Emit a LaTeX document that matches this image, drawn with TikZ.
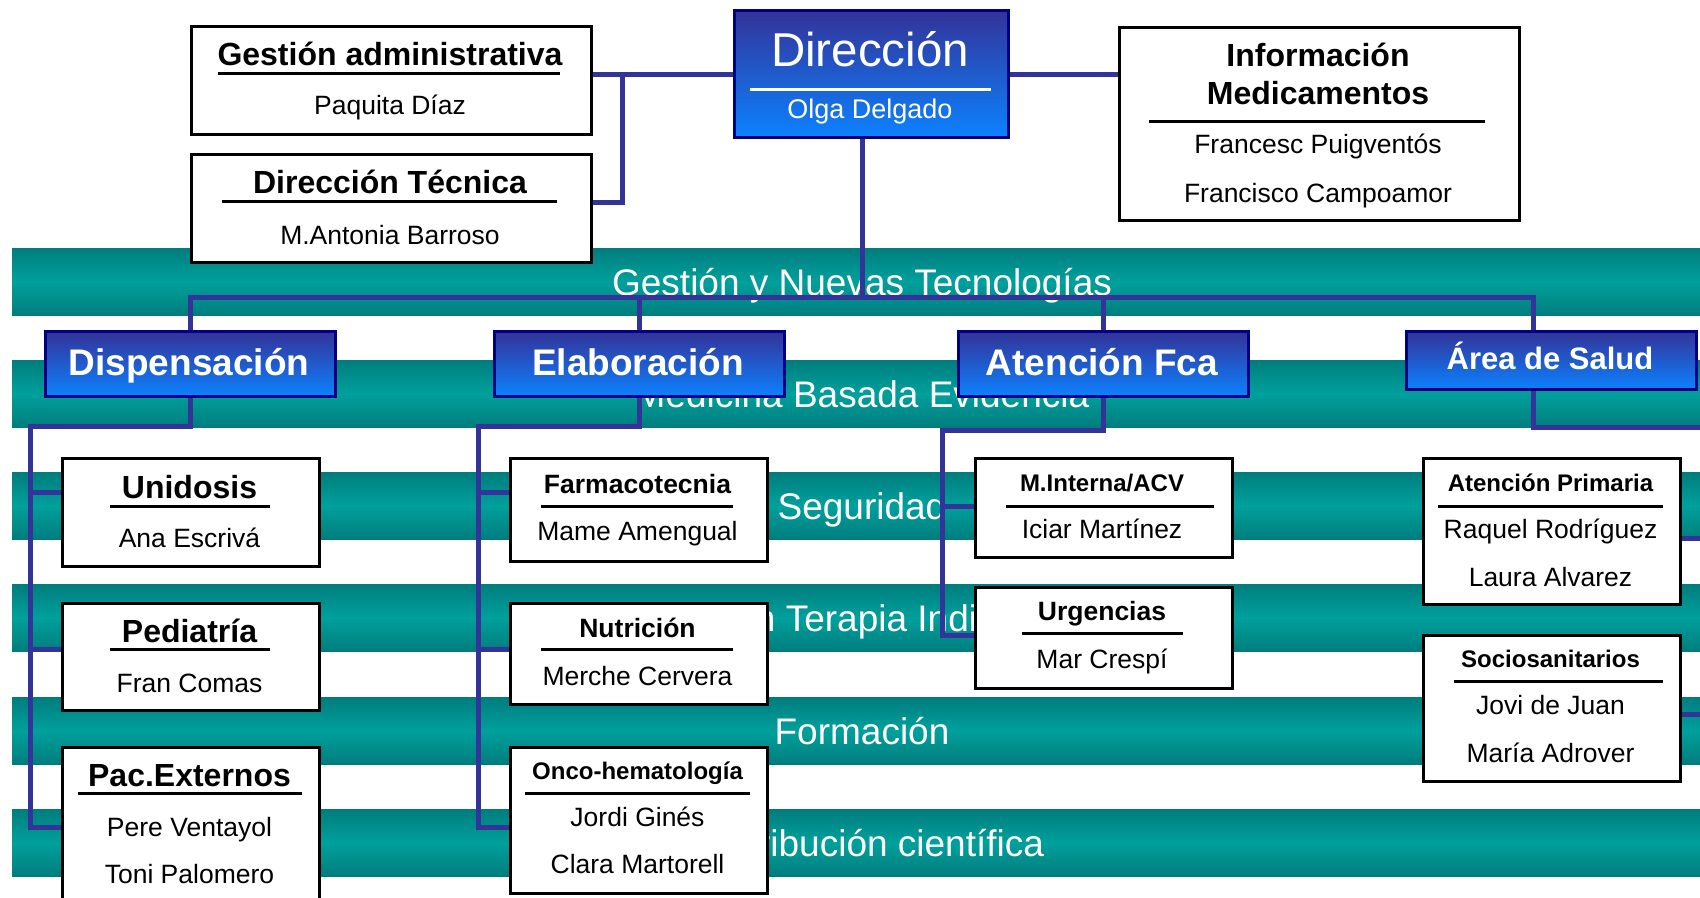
\documentclass[tikz,border=0pt]{standalone}
\usepackage{fontspec}
\setmainfont{Liberation Sans}
\definecolor{tealA}{RGB}{0,125,125}
\definecolor{tealB}{RGB}{0,160,156}
\definecolor{lineblue}{RGB}{51,51,153}
\definecolor{navyB}{RGB}{0,0,130}
\definecolor{blueTop}{RGB}{51,51,153}
\definecolor{blueBot}{RGB}{12,130,255}
\newcommand{\fs}[1]{\fontsize{#1}{#1}\selectfont}
\pgfdeclarelayer{bands}
\pgfdeclarelayer{conns}
\pgfsetlayers{bands,conns,main}
\tikzset{
  band/.style={top color=tealA, bottom color=tealA, middle color=tealB, draw=none, inner sep=0pt, anchor=north west, minimum width=1688pt, minimum height=67pt},
  bandtxt/.style={text=white, font=\fs{37}, anchor=base, inner sep=0pt},
  bluebox/.style={draw=navyB, line width=3pt, top color=blueTop, bottom color=blueBot, inner sep=0pt, anchor=north west},
  wbox/.style={draw=black, line width=3pt, fill=white, inner sep=0pt, anchor=north west},
  conn/.style={draw=lineblue, line width=5pt, line join=miter},
  uline/.style={draw=black, line width=3pt},
  wline/.style={draw=white, line width=3pt},
  sectxt/.style={text=white, font=\bfseries\fs{37}, anchor=base, inner sep=0pt},
  bigttl/.style={font=\bfseries\fs{32}, anchor=base, inner sep=0pt},
  midttl/.style={font=\bfseries\fs{26.5}, anchor=base, inner sep=0pt},
  smlttl/.style={font=\bfseries\fs{24}, anchor=base, inner sep=0pt},
  nm/.style={font=\fs{26.5}, anchor=base, inner sep=0pt}
}
\begin{document}
\begin{tikzpicture}[x=1pt,y=-1pt]
\useasboundingbox (0,0) rectangle (1700,897);
\begin{pgfonlayer}{bands}
\node[band] (b1) at (12,248) {};
\node[band] (b2) at (12,360) {};
\node[band] (b3) at (12,472) {};
\node[band] (b4) at (12,584) {};
\node[band] (b5) at (12,697) {};
\node[band] (b6) at (12,809) {};
\node[bandtxt] (t1) at (862,295) {Gestión y Nuevas Tecnologías};
\node[bandtxt] (t2) at (862,407) {Medicina Basada Evidencia};
\node[bandtxt] (t3) at (862,519) {Seguridad};
\node[bandtxt] (t4) at (862,631) {Optimización Terapia Individualizada};
\node[bandtxt] (t5) at (862,744) {Formación};
\node[bandtxt] (t6) at (862,856) {Contribución científica};
\end{pgfonlayer}

% top level boxes
\node[bluebox, minimum width=274pt, minimum height=127pt] (dir) at (733,9) {};
\node[wbox, minimum width=400pt, minimum height=108pt] (ga) at (190,25) {};
\node[wbox, minimum width=400pt, minimum height=108pt] (dt) at (190,153) {};
\node[wbox, minimum width=400pt, minimum height=193pt] (info) at (1118,26) {};

% section boxes
\node[bluebox, minimum width=290pt, minimum height=65pt] (disp) at (44,330) {};
\node[bluebox, minimum width=290pt, minimum height=65pt] (elab) at (493,330) {};
\node[bluebox, minimum width=290pt, minimum height=65pt] (atf) at (957,330) {};
\node[bluebox, minimum width=290pt, minimum height=58pt] (area) at (1405,330) {};

% sub boxes
\node[wbox, minimum width=257pt, minimum height=108pt] (uni) at (61,457) {};
\node[wbox, minimum width=257pt, minimum height=107pt] (ped) at (61,602) {};
\node[wbox, minimum width=257pt, minimum height=180pt] (pac) at (61,746) {};
\node[wbox, minimum width=257pt, minimum height=103pt] (farm) at (509,457) {};
\node[wbox, minimum width=257pt, minimum height=101pt] (nut) at (509,602) {};
\node[wbox, minimum width=257pt, minimum height=146pt] (onco) at (509,746) {};
\node[wbox, minimum width=257pt, minimum height=99pt] (mint) at (974,457) {};
\node[wbox, minimum width=257pt, minimum height=101pt] (urg) at (974,586) {};
\node[wbox, minimum width=257pt, minimum height=146pt] (ap) at (1422,457) {};
\node[wbox, minimum width=257pt, minimum height=146pt] (soc) at (1422,634) {};

% texts: Direccion
\node[text=white, font=\fs{47.5}, anchor=base, inner sep=0pt] (dirT) at (870,66) {Dirección};
\draw[wline] (750,89) -- (991,89);
\node[text=white, font=\fs{27}, anchor=base, inner sep=0pt] (dirN) at (870,118) {Olga Delgado};
% Gestion administrativa
\node[bigttl] (gaT) at (390,65) {Gestión administrativa};
\draw[uline] (218,73) -- (560,73);
\node[nm] (gaN) at (390,114) {Paquita Díaz};
% Direccion tecnica
\node[bigttl] (dtT) at (390,193) {Dirección Técnica};
\draw[uline] (222,201) -- (557,201);
\node[nm] (dtN) at (390,244) {M.Antonia Barroso};
% Informacion
\node[bigttl] (infoT1) at (1318,66) {Información};
\node[bigttl] (infoT2) at (1318,104) {Medicamentos};
\draw[uline] (1149,121) -- (1485,121);
\node[nm] (infoN1) at (1318,153) {Francesc Puigventós};
\node[nm] (infoN2) at (1318,202) {Francisco Campoamor};
% sections
\node[sectxt] (dispT) at (189,375) {Dispensación};
\node[sectxt] (elabT) at (638,375) {Elaboración};
\node[sectxt] (atfT) at (1102,375) {Atención Fca};
\node[sectxt, font=\bfseries\fs{31}] (areaT) at (1550,369) {Área de Salud};
% Dispensacion column
\node[bigttl] (uniT) at (189.5,498) {Unidosis};
\draw[uline] (110,506) -- (270,506);
\node[nm] (uniN) at (189.5,547) {Ana Escrivá};
\node[bigttl] (pedT) at (189.5,642) {Pediatría};
\draw[uline] (110,649) -- (270,649);
\node[nm] (pedN) at (189.5,692) {Fran Comas};
\node[bigttl] (pacT) at (189.5,786) {Pac.Externos};
\draw[uline] (78,793) -- (302,793);
\node[nm] (pacN1) at (189.5,836) {Pere Ventayol};
\node[nm] (pacN2) at (189.5,883) {Toni Palomero};
% Elaboracion column
\node[midttl] (farmT) at (637.5,493) {Farmacotecnia};
\draw[uline] (541,506) -- (733,506);
\node[nm] (farmN) at (637.5,540) {Mame Amengual};
\node[midttl] (nutT) at (637.5,637) {Nutrición};
\draw[uline] (541,649) -- (733,649);
\node[nm] (nutN) at (637.5,685) {Merche Cervera};
\node[smlttl] (oncoT) at (637.5,779) {Onco-hematología};
\draw[uline] (525,793) -- (750,793);
\node[nm] (oncoN1) at (637.5,826) {Jordi Ginés};
\node[nm] (oncoN2) at (637.5,873) {Clara Martorell};
% Atencion Fca column
\node[smlttl] (mintT) at (1102,491) {M.Interna/ACV};
\draw[uline] (1006,506) -- (1214,506);
\node[nm] (mintN) at (1102,538) {Iciar Martínez};
\node[midttl] (urgT) at (1102,620) {Urgencias};
\draw[uline] (1022,633) -- (1183,633);
\node[nm] (urgN) at (1102,668) {Mar Crespí};
% Area de Salud column
\node[smlttl] (apT) at (1550.5,491) {Atención Primaria};
\draw[uline] (1438,506) -- (1663,506);
\node[nm] (apN1) at (1550.5,538) {Raquel Rodríguez};
\node[nm] (apN2) at (1550.5,586) {Laura Alvarez};
\node[smlttl] (socT) at (1550.5,667) {Sociosanitarios};
\draw[uline] (1454,681) -- (1663,681);
\node[nm] (socN1) at (1550.5,714) {Jovi de Juan};
\node[nm] (socN2) at (1550.5,762) {María Adrover};

% connector coordinates
\coordinate (dirdown) at (862,136);
\coordinate (bus) at (0,297);
\coordinate (j1) at (622,73);
\coordinate (dtlink) at (0,202);
\coordinate (areadown) at (1533,388);
\coordinate (areatop) at (1533,330);
\coordinate (edge) at (1700,427);
\coordinate (dtrunk) at (30,426);
\coordinate (etrunk) at (478,426);
\coordinate (atrunk) at (942,430);
\coordinate (ytop) at (0,492);
\coordinate (ymid) at (0,649);
\coordinate (ybot) at (0,827);
\coordinate (ym1) at (0,506);
\coordinate (ym2) at (0,635);
\coordinate (apy) at (1700,538);
\coordinate (socy) at (1700,714);

\begin{pgfonlayer}{conns}
\draw[conn] (dir.west) -- (ga.east |- dir.west);
\draw[conn] (j1) |- (dt.east |- dtlink);
\draw[conn] (dir.east) -- (info.west |- dir.east);
\draw[conn] (dirdown) -- (dirdown |- bus);
\draw[conn] (disp.north) |- (areatop |- bus) -- (areatop);
\draw[conn] (elab.north) -- (elab.north |- bus);
\draw[conn] (atf.north) -- (atf.north |- bus);
\draw[conn] (disp.south) |- (dtrunk) |- (pac.west |- ybot);
\draw[conn] (dtrunk |- ytop) -- (uni.west |- ytop);
\draw[conn] (dtrunk |- ymid) -- (ped.west |- ymid);
\draw[conn] (elab.south) |- (etrunk) |- (onco.west |- ybot);
\draw[conn] (etrunk |- ytop) -- (farm.west |- ytop);
\draw[conn] (etrunk |- ymid) -- (nut.west |- ymid);
\draw[conn] (atf.south) |- (atrunk) |- (urg.west |- ym2);
\draw[conn] (atrunk |- ym1) -- (mint.west |- ym1);
\draw[conn] (areadown) |- (edge);
\draw[conn] (ap.east |- apy) -- (apy);
\draw[conn] (soc.east |- socy) -- (socy);
\end{pgfonlayer}
\end{tikzpicture}
\end{document}
